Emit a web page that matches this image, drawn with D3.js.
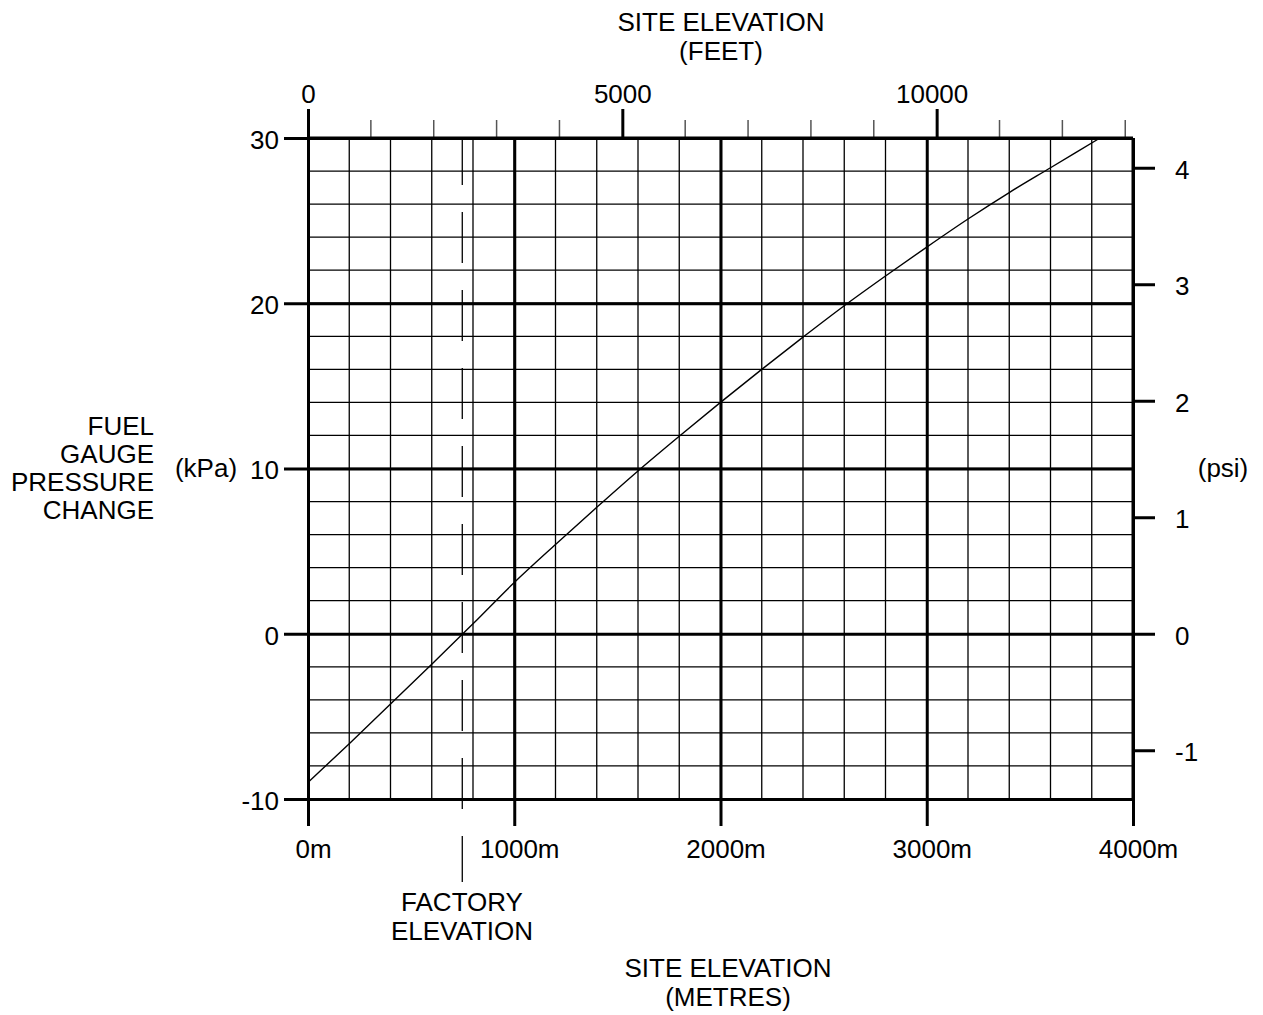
<!DOCTYPE html>
<html>
<head>
<meta charset="utf-8">
<script src="https://cdn.jsdelivr.net/npm/d3@7"></script>
<style>
  body { margin: 0; background: #fff; }
  svg text { font-family: "Liberation Sans", Arial, sans-serif; font-size: 26px; fill: #000; }
</style>
</head>
<body>
<script>
    'use strict';

    var width = 1263;
    var height = 1015;

    // elevation (m) vs fuel gauge pressure change (kPa)
    var elevation = [0, 200, 400, 600, 800, 1000, 1200, 1400, 1600, 1800, 2000, 2200, 2400, 2600, 2800, 3000, 3200, 3400, 3600, 3840];
    var pressure = [-9.0, -6.65, -4.25, -1.85, 0.6, 3.1, 5.4, 7.65, 9.85, 11.95, 14.0, 16.0, 17.95, 19.85, 21.65, 23.4, 25.1, 26.7, 28.2, 30.0];

    var metreTicks = [0, 1000, 2000, 3000, 4000];
    var kpaTicks = [-10, 0, 10, 20, 30];
    var psiTicks = [-1, 0, 1, 2, 3, 4];
    var feetMajor = [0, 5000, 10000];
    var feetMinor = [1000, 2000, 3000, 4000, 6000, 7000, 8000, 9000, 11000, 12000, 13000];
    var factoryElevation = 748;

    var metresPerFoot = 0.3048;
    var kpaPerPsi = 7.05;   // as drawn on the chart

    (function () {
        var x = d3.scaleLinear().domain([0, 4000]).range([308, 1133]);
        var y = d3.scaleLinear().domain([-10, 30]).range([799, 138]);
        var xFeet = d3.scaleLinear().domain([0, 4000 / metresPerFoot]).range(x.range());
        var yPsi = d3.scaleLinear().domain([-10 / kpaPerPsi, 30 / kpaPerPsi]).range(y.range());

        var root = d3.select('body').append('svg')
            .attr('width', width)
            .attr('height', height);

        // minor grid
        var grid = root.append('g').attr('stroke', '#000').attr('stroke-width', 1.3);
        grid.selectAll('line.v')
            .data(d3.range(200, 4000, 200))
          .enter().append('line')
            .attr('class', 'v')
            .attr('x1', function (d) { return x(d); })
            .attr('x2', function (d) { return x(d); })
            .attr('y1', y(-10))
            .attr('y2', y(30));
        grid.selectAll('line.h')
            .data(d3.range(-8, 30, 2))
          .enter().append('line')
            .attr('class', 'h')
            .attr('x1', x(0))
            .attr('x2', x(4000))
            .attr('y1', function (d) { return y(d); })
            .attr('y2', function (d) { return y(d); });

        // bottom axis (metres), major lines extend as ticks
        var bottom = root.append('g')
            .attr('transform', 'translate(0,' + y(-10) + ')')
            .call(d3.axisBottom(x).tickValues(metreTicks).tickSize(27).tickPadding(14)
                .tickFormat(function (d) { return d + 'm'; }));
        bottom.select('.domain').remove();
        bottom.selectAll('.tick line').attr('stroke-width', 3)
            .attr('y1', y(30) - y(-10));
        bottom.selectAll('.tick text').attr('dx', 5);

        // left axis (kPa)
        var left = root.append('g')
            .attr('transform', 'translate(' + x(0) + ',0)')
            .call(d3.axisLeft(y).tickValues(kpaTicks).tickSize(24).tickPadding(5)
                .tickFormat(function (d) { return d; }));
        left.select('.domain').remove();
        left.selectAll('.tick line').attr('stroke-width', 3)
            .attr('x1', x(4000) - x(0));
        left.selectAll('.tick text').attr('dy', '0.4em');

        // right axis (psi)
        var right = root.append('g')
            .attr('transform', 'translate(' + x(4000) + ',0)')
            .call(d3.axisRight(yPsi).tickValues(psiTicks).tickSize(22).tickPadding(20)
                .tickFormat(function (d) { return d; }));
        right.select('.domain').remove();
        right.selectAll('.tick line').attr('stroke-width', 3);
        right.selectAll('.tick text').attr('dy', '0.4em');

        // top axis (feet)
        var topAxis = root.append('g')
            .attr('transform', 'translate(0,' + y(30) + ')');
        topAxis.selectAll('line.minor')
            .data(feetMinor)
          .enter().append('line')
            .attr('class', 'minor')
            .attr('x1', function (d) { return xFeet(d); })
            .attr('x2', function (d) { return xFeet(d); })
            .attr('y1', 0)
            .attr('y2', -18)
            .attr('stroke', '#555')
            .attr('stroke-width', 1.5);
        var topMajor = topAxis.append('g')
            .call(d3.axisTop(xFeet).tickValues(feetMajor).tickSize(29).tickPadding(6)
                .tickFormat(function (d) { return d; }));
        topMajor.select('.domain').remove();
        topMajor.selectAll('.tick line').attr('stroke-width', 3);
        topMajor.selectAll('.tick text').attr('dx', function (d) { return d >= 10000 ? -5 : 0; });

        // plot frame
        root.append('line')
            .attr('x1', x(0)).attr('x2', x(4000))
            .attr('y1', y(30)).attr('y2', y(30))
            .attr('stroke', '#000').attr('stroke-width', 3);
        root.append('line')
            .attr('x1', x(4000)).attr('x2', x(4000))
            .attr('y1', y(30)).attr('y2', y(-10))
            .attr('stroke', '#000').attr('stroke-width', 3);

        // factory elevation dashed marker
        root.append('line')
            .attr('x1', x(factoryElevation)).attr('x2', x(factoryElevation))
            .attr('y1', y(30)).attr('y2', 882)
            .attr('stroke', '#000').attr('stroke-width', 1.3)
            .attr('stroke-dasharray', '51,27')
            .attr('stroke-dashoffset', 4);

        // curve
        var curve = d3.line()
            .x(function (d) { return x(d[0]); })
            .y(function (d) { return y(d[1]); })
            .curve(d3.curveMonotoneX);
        root.append('path')
            .datum(d3.zip(elevation, pressure))
            .attr('d', curve)
            .attr('fill', 'none')
            .attr('stroke', '#000')
            .attr('stroke-width', 1.4);

        // labels
        function label (lines, px, py, anchor, lh) {
            var t = root.append('text').attr('text-anchor', anchor);
            lines.forEach(function (s, i) {
                t.append('tspan').attr('x', px).attr('y', py + i * lh).text(s);
            });
        }

        label(['SITE ELEVATION', '(FEET)'], 721, 31, 'middle', 29);
        label(['SITE ELEVATION', '(METRES)'], 728, 977, 'middle', 29);
        label(['FACTORY', 'ELEVATION'], 462, 911, 'middle', 29);
        label(['FUEL', 'GAUGE', 'PRESSURE', 'CHANGE'], 154, 435, 'end', 28);
        label(['(kPa)'], 206, 477, 'middle', 0);
        label(['(psi)'], 1223, 477, 'middle', 0);
    })();
</script>
</body>
</html>
